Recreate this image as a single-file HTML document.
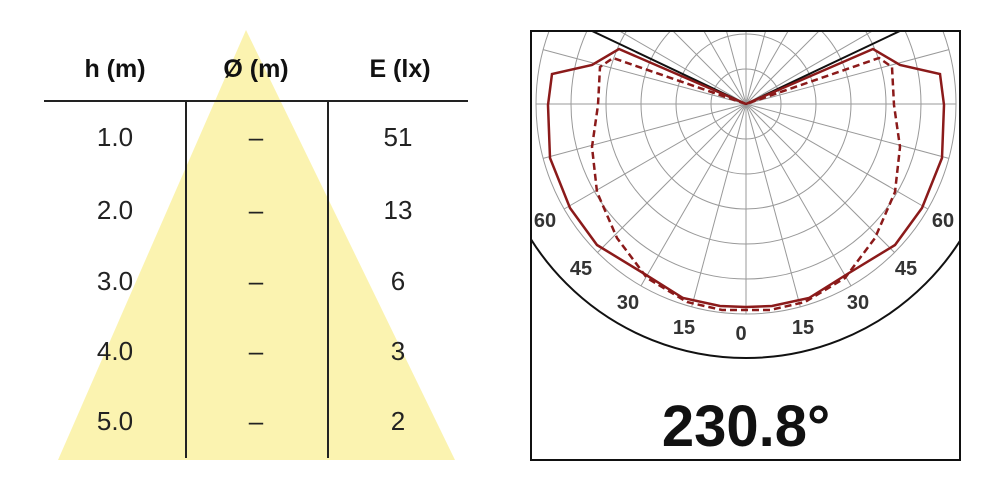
<!DOCTYPE html>
<html><head><style>body{margin:0;background:#fff}</style></head><body>
<svg width="1000" height="491" xmlns="http://www.w3.org/2000/svg" font-family="Liberation Sans, sans-serif">
<polygon points="246,30 58,460 455,460" fill="#fbf3b0"/>
<g font-size="25" font-weight="bold" fill="#111" text-anchor="middle">
<text x="115" y="77">h (m)</text><text x="256" y="77">Ø (m)</text><text x="400" y="77">E (lx)</text></g>
<line x1="44" y1="101" x2="468" y2="101" stroke="#222" stroke-width="2"/>
<line x1="186" y1="101" x2="186" y2="458" stroke="#222" stroke-width="2"/>
<line x1="328" y1="101" x2="328" y2="458" stroke="#222" stroke-width="2"/>
<g font-size="26" fill="#222" text-anchor="middle">
<text x="115" y="146">1.0</text><text x="256" y="146">–</text><text x="398" y="146">51</text>
<text x="115" y="219">2.0</text><text x="256" y="219">–</text><text x="398" y="219">13</text>
<text x="115" y="290">3.0</text><text x="256" y="290">–</text><text x="398" y="290">6</text>
<text x="115" y="360">4.0</text><text x="256" y="360">–</text><text x="398" y="360">3</text>
<text x="115" y="430">5.0</text><text x="256" y="430">–</text><text x="398" y="430">2</text></g>
<defs><clipPath id="c"><rect x="531" y="31" width="429" height="429"/></clipPath></defs>
<g clip-path="url(#c)">
<g fill="none" stroke="#999" stroke-width="1">
<circle cx="746" cy="104" r="35"/><circle cx="746" cy="104" r="70"/><circle cx="746" cy="104" r="105"/><circle cx="746" cy="104" r="140"/><circle cx="746" cy="104" r="175"/><circle cx="746" cy="104" r="210"/>
<line x1="536" y1="104" x2="956" y2="104" transform="rotate(0 746 104)"/>
<line x1="536" y1="104" x2="956" y2="104" transform="rotate(15 746 104)"/>
<line x1="536" y1="104" x2="956" y2="104" transform="rotate(30 746 104)"/>
<line x1="536" y1="104" x2="956" y2="104" transform="rotate(45 746 104)"/>
<line x1="536" y1="104" x2="956" y2="104" transform="rotate(60 746 104)"/>
<line x1="536" y1="104" x2="956" y2="104" transform="rotate(75 746 104)"/>
<line x1="536" y1="104" x2="956" y2="104" transform="rotate(90 746 104)"/>
<line x1="536" y1="104" x2="956" y2="104" transform="rotate(105 746 104)"/>
<line x1="536" y1="104" x2="956" y2="104" transform="rotate(120 746 104)"/>
<line x1="536" y1="104" x2="956" y2="104" transform="rotate(135 746 104)"/>
<line x1="536" y1="104" x2="956" y2="104" transform="rotate(150 746 104)"/>
<line x1="536" y1="104" x2="956" y2="104" transform="rotate(165 746 104)"/>
</g>
<circle cx="746" cy="104" r="254" fill="none" stroke="#111" stroke-width="2"/>
<polyline points="590,30 746,104 902,30" fill="none" stroke="#111" stroke-width="2"/>
<polyline fill="none" stroke="#8b1a1a" stroke-width="2.5" points="746,104 619,49 592,65 552,74 548,105 550,158 570,208 597,245 643,273 683,298 720,306 746,307 772,306 809,298 849,273 895,245 922,208 942,158 944,105 940,74 900,65 873,49 746,104"/>
<polyline fill="none" stroke="#8b1a1a" stroke-width="2.5" stroke-dasharray="7,4" points="746,104 613,58 600,67 598,105 592,147 597,192 617,238 647,278 687,302 722,310 746,310 770,310 805,302 845,278 875,238 895,192 900,147 894,105 892,67 879,58 746,104"/>
</g>
<rect x="531" y="31" width="429" height="429" fill="none" stroke="#111" stroke-width="2"/>
<g font-size="20" font-weight="bold" fill="#333" text-anchor="middle">
<text x="545" y="227">60</text><text x="943" y="227">60</text>
<text x="581" y="275">45</text><text x="906" y="275">45</text>
<text x="628" y="309">30</text><text x="858" y="309">30</text>
<text x="684" y="334">15</text><text x="803" y="334">15</text>
<text x="741" y="340">0</text></g>
<text x="746" y="446" font-size="58" font-weight="bold" fill="#111" text-anchor="middle">230.8°</text>
</svg>
</body></html>
